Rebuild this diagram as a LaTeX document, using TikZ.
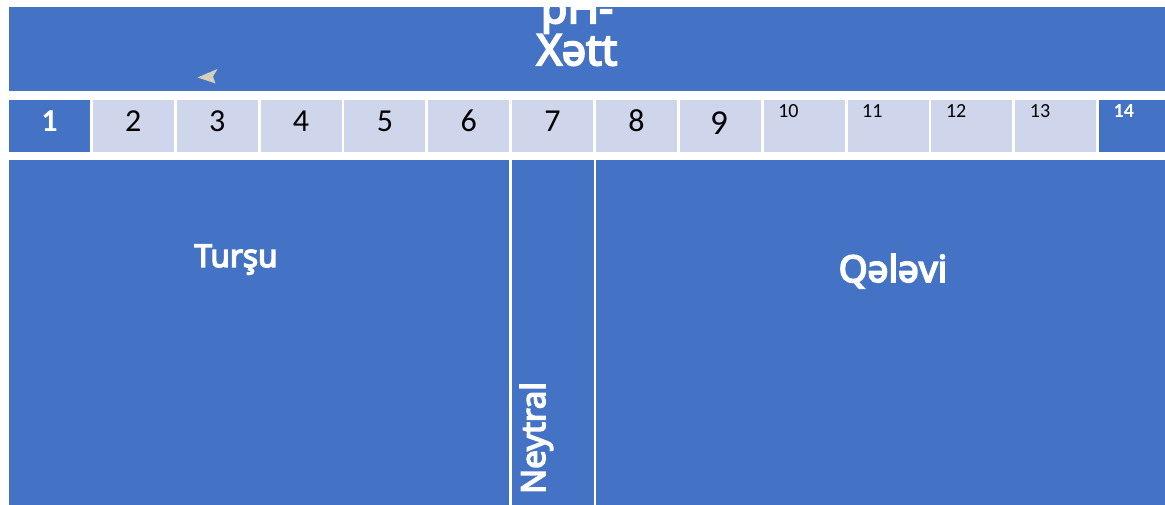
\documentclass[tikz,border=0pt]{standalone}
\usepackage{fontspec}
\setmainfont{Carlito}
\newfontfamily\labelfont{Noto Sans}[AutoFakeBold=4.5]
\definecolor{bl}{HTML}{4472C4}
\definecolor{lc}{HTML}{CFD5EA}
\definecolor{arr}{HTML}{D4D0BC}
\begin{document}
\begin{tikzpicture}[x=1pt,y=-1pt,
  box/.style={fill=bl, draw=none, anchor=north west, inner sep=0pt, outer sep=0pt},
  cellbox/.style={fill=lc, draw=none, anchor=north west, inner sep=0pt, outer sep=0pt,
                  minimum width=81pt, minimum height=52.5pt},
  darkcell/.style={cellbox, fill=bl},
  bignum/.style={anchor=base, inner sep=0pt, font=\fontsize{32}{36}\selectfont},
  smallnum/.style={anchor=base west, inner sep=0pt, font=\fontsize{20}{24}\selectfont},
  wlabel/.style={text=white, inner sep=0pt, font=\labelfont\bfseries\fontsize{31.5}{36}\selectfont}]
\useasboundingbox (0,0) rectangle (1165,505);

% title band
\node[box, minimum width=1156pt, minimum height=84pt] (band) at (9,7) {};
\begin{scope}
  \clip (9,7) rectangle (1165,91);
  \node[text=white, inner sep=0pt, align=center,
        font=\labelfont\bfseries\fontsize{43}{35}\selectfont] (title) at (577,29) {pH-\\Xətt};
\end{scope}
\fill[arr] (197.5,77.5) -- (217.5,69) -- (213,76.5) -- (215.5,83.5) -- cycle;

% scale cells
\node[darkcell] (c1) at (9,100) {};
\node[bignum, text=white, font=\bfseries\fontsize{32}{36}\selectfont] (n1) at (49.5,132) {1};
\foreach \i in {2,...,8}{
  \pgfmathsetmacro{\xl}{9+83.85*(\i-1)}
  \node[cellbox] (c\i) at (\xl,100) {};
  \node[bignum] (n\i) at (\xl+40.5,132) {\i};
}
\node[cellbox] (c9) at (679.8,100) {};
\node[bignum, font=\fontsize{35}{40}\selectfont] (n9) at (719,135) {9};
\foreach \i in {10,...,13}{
  \pgfmathsetmacro{\xl}{9+83.85*(\i-1)}
  \node[cellbox] (c\i) at (\xl,100) {};
  \node[smallnum] (n\i) at (\xl+14.5,118) {\i};
}
\node[darkcell, minimum width=66pt] (c14) at (1099,100) {};
\node[smallnum, text=white, font=\bfseries\fontsize{20}{24}\selectfont] (n14) at (1113.5,118) {14};

% lower regions
\node[box, minimum width=500pt, minimum height=345pt] (acid) at (9,160) {};
\node[box, minimum width=81.5pt, minimum height=345pt] (neutral) at (512,160) {};
\node[box, minimum width=569pt, minimum height=345pt] (base) at (596,160) {};

\node[wlabel, anchor=base] (tacid) at (236,267) {Turşu};
\node[wlabel, anchor=base, font=\labelfont\bfseries\fontsize{37}{42}\selectfont] (tbase) at (893,282) {Qələvi};
\node[wlabel, anchor=base, rotate=90, font=\labelfont\bfseries\fontsize{33}{40}\selectfont] (tneutral) at (545,438) {Neytral};
\end{tikzpicture}
\end{document}
